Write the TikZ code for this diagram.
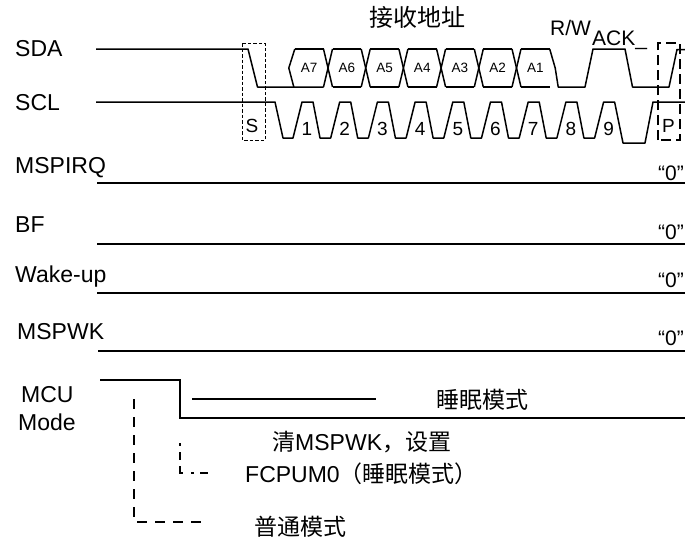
\documentclass[tikz,border=0pt]{standalone}
\usepackage{fontspec}
\setmainfont{Liberation Sans}
\newfontfamily\cjk{Noto Sans CJK SC}
\begin{document}
\begin{tikzpicture}[x=1pt,y=-1pt,
  lab/.style={font=\fontsize{23}{27}\selectfont, inner sep=0pt, anchor=base west},
  cjklab/.style={font=\fontsize{23}{27}\selectfont\cjk, inner sep=0pt, anchor=base west},
  num/.style={font=\fontsize{19}{22}\selectfont, inner sep=0pt, anchor=base},
  abox/.style={font=\fontsize{13.5}{16}\selectfont, inner sep=0pt},
  zero/.style={font=\fontsize{21}{24}\selectfont, inner sep=0pt, anchor=base west},
  wave/.style={line width=1.5pt, line join=round},
  sig/.style={line width=2pt},
  sbox/.style={line width=0.9pt, dash pattern=on 3.5pt off 2pt},
  pbox/.style={line width=1.4pt, dash pattern=on 10pt off 5pt},
  guide/.style={line width=1.3pt, dash pattern=on 10pt off 8pt}]
\useasboundingbox (0,0) rectangle (685,538);

% ---- labels on the left
\node[lab] (lsda) at (15,56) {SDA};
\node[lab] (lscl) at (15,110) {SCL};
\node[lab] (lirq) at (15,173) {MSPIRQ};
\node[lab] (lbf) at (15,232) {BF};
\node[lab] (lwake) at (15,282) {Wake-up};
\node[lab] (lwk) at (17,339) {MSPWK};
\node[lab] (lmcu) at (21,402) {MCU};
\node[lab] (lmode) at (18,430) {Mode};

% ---- top texts
\node[font=\fontsize{24}{28}\selectfont\cjk, inner sep=0pt, anchor=base west] (addr) at (369,26.3) {接收地址};
\node[font=\fontsize{21}{24}\selectfont, inner sep=0pt, anchor=base west] (rw) at (550,35) {R/W};
\node[font=\fontsize{21}{24}\selectfont, inner sep=0pt, anchor=base west] (ack) at (592,45) {ACK\_};

% ---- SDA waveform
\draw[wave] (96,49) -- (248,49) -- (257.5,87) -- ({290.3+37.7-4.5},87);
\draw[wave] ({290.3+4.5},49) -- ({290.3-1.5},68) -- ({290.3+3.5},87);
\foreach \i in {1,...,6}{
  \pgfmathsetmacro\ta{290.3+37.7*\i}
  \draw[wave] (\ta-4.5,49) -- (\ta+4.5,87);
  \draw[wave] (\ta-4.5,87) -- (\ta+4.5,49);
}
\foreach \i/\t in {0/A7,1/A6,2/A5,3/A4,4/A3,5/A2,6/A1}{
  \pgfmathsetmacro\ta{290.3+37.7*\i}
  \pgfmathsetmacro\tb{\ta+37.7}
  \draw[wave] (\ta+4.5,49) -- (\tb-4.5,49);
  \ifnum\i>0 \draw[wave] (\ta+4.5,87) -- (\tb-4.5,87); \fi
  \node[abox] (box\i) at ({(\ta+\tb)/2},68) {\t};
}
\pgfmathsetmacro\tl{290.3+37.7*7}
\draw[wave] (\tl-4.5,49) -- (\tl+1,68) -- (\tl+4,87) -- (585,87) -- (593,49)
  -- (625,49) -- (632.5,87) -- (669,87) -- (677,49.5) -- (686,49.5);

% ---- SCL waveform
\draw[wave] (96,102) -- (275,102) -- (283,138)
  \foreach \k in {0,...,7}{ -- ({293+37.7*\k},138) -- ({302+37.7*\k},102) -- ({313+37.7*\k},102) -- ({320+37.7*\k},138) }
  -- (594.6,138) -- (603.6,102) -- (614.6,102) -- (623,143) -- (645,143) -- (653,102) -- (686,102);
\foreach \k in {1,...,9}{
  \node[num] (n\k) at ({307+37.7*(\k-1)},135) {\k};
}
\node[num] (sS) at (252,132) {S};
\node[num] (sP) at (668.5,132) {P};

% ---- start / stop boxes
\draw[sbox] (242,43) rectangle (265,140);
\draw[pbox] (658,140) -- (658,43) -- (680,43) -- (680,140) -- cycle;

% ---- flat signals
\draw[sig] (97,183) -- (686,183);
\draw[sig] (97,244) -- (686,244);
\draw[sig] (97,293) -- (686,293);
\draw[sig] (98,351) -- (686,351);
\node[zero] (z1) at (658,180) {“0”};
\node[zero] (z2) at (658,239) {“0”};
\node[zero] (z3) at (658,287) {“0”};
\node[zero] (z4) at (658,345) {“0”};

% ---- MCU mode
\draw[sig] (100,380) -- (180,380) -- (180,418) -- (686,418);
\draw[sig] (192,399) -- (376,399);
\node[cjklab] (sleep) at (436,408.5) {睡眠模式};
\node[lab] (clr) at (272,450) {{\cjk 清}MSPWK{\cjk ，设置}};
\node[lab] (fcpu) at (245,482) {FCPUM0{\cjk （睡眠模式）}};
\node[cjklab] (normal) at (254,535) {普通模式};

\coordinate (g1a) at (134,399);
\coordinate (g1b) at (134,522);
\coordinate (g1c) at (208,522);
\coordinate (g2a) at (180,443);
\coordinate (g2b) at (180,473);
\coordinate (g2c) at (208,473);
\draw[guide] (g1a) -- (g1b) -- (g1c);
\draw[guide, dash pattern=on 3pt off 6pt on 8pt off 6pt on 10pt off 8pt] (g2a) -- (g2b) -- (g2c);
\end{tikzpicture}
\end{document}
